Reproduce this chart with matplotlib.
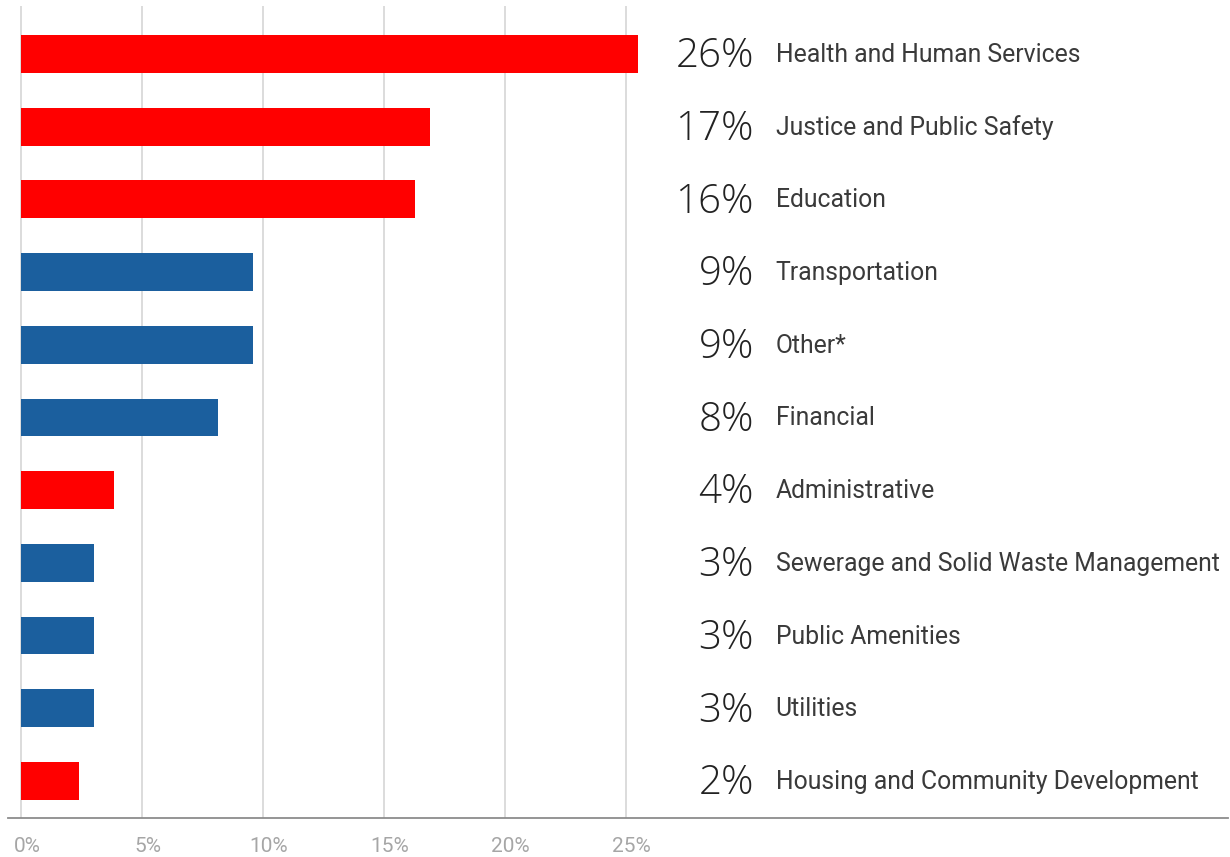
import matplotlib
matplotlib.use("Agg")
import matplotlib.pyplot as plt
import matplotlib.transforms as mtransforms

categories = ["Health and Human Services", "Justice and Public Safety", "Education",
              "Transportation", "Other*", "Financial", "Administrative",
              "Sewerage and Solid Waste Management", "Public Amenities", "Utilities",
              "Housing and Community Development"]
values = [25.5, 16.9, 16.3, 9.6, 9.6, 8.15, 3.85, 3.0, 3.0, 3.0, 2.4]
value_labels = ["26%", "17%", "16%", "9%", "9%", "8%", "4%", "3%", "3%", "3%", "2%"]
highlight = [True, True, True, False, False, False, True, False, False, False, True]
xticks = [0, 5, 10, 15, 20, 25]
xtick_labels = ["0%", "5%", "10%", "15%", "20%", "25%"]

RED = "#FF0000"
BLUE = "#1B5F9E"
FONT = ["Roboto", "DejaVu Sans"]
VFONT = ["Open Sans", "DejaVu Sans"]

fig = plt.figure(figsize=(12.3, 8.57), dpi=100)
ax = fig.add_axes([8 / 1230, (857 - 818) / 857, (1228 - 8) / 1230, (818 - 6) / 857])

ypos = list(range(len(categories)))
colors = [RED if h else BLUE for h in highlight]
ax.barh(ypos, values, height=0.52, color=colors, zorder=2)

ax.set_xlim(-0.54, 49.9)
ax.set_ylim(10.51, -0.66)

ax.set_xticks(xticks)
ax.set_xticklabels([])
ax.tick_params(axis="x", length=0)
ax.set_yticks([])

offset = mtransforms.ScaledTranslation(6 / 100, -19 / 100, fig.dpi_scale_trans)
for x, lbl in zip(xticks, xtick_labels):
    ax.text(x, 0, lbl, transform=ax.get_xaxis_transform() + offset, ha="center", va="top",
            fontsize=15, color="#A6A6A6", family=FONT)

for x in xticks:
    ax.axvline(x, color="#D9D9D9", linewidth=1.3, zorder=1)

for s in ["top", "right", "left"]:
    ax.spines[s].set_visible(False)
ax.spines["bottom"].set_color("#8C8C8C")
ax.spines["bottom"].set_linewidth(1.3)

for y, vl, cat in zip(ypos, value_labels, categories):
    ax.text(30.3, y - 0.03, vl, ha="right", va="center_baseline", fontsize=29, color="#222222",
            family=VFONT, fontweight="light")
    ax.text(31.2, y - 0.02, cat, ha="left", va="center_baseline", fontsize=17.8, color="#3A3A3A",
            family=FONT)

fig.savefig("out.png", dpi=100, facecolor="white")
